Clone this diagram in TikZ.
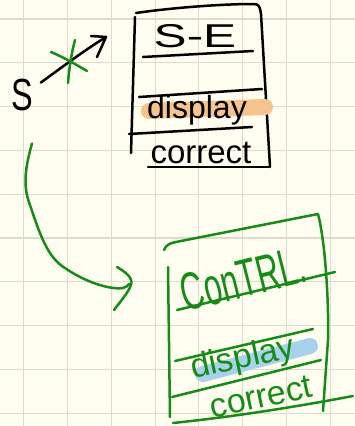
\documentclass[tikz,border=0pt]{standalone}
\usepackage{fontspec}
\setmainfont{Liberation Sans}
\definecolor{paper}{RGB}{254,253,240}
\definecolor{gridgray}{RGB}{222,219,205}
\definecolor{pengreen}{RGB}{22,140,22}
\definecolor{hlorange}{RGB}{244,196,140}
\definecolor{hlblue}{RGB}{168,210,236}
\begin{document}
\begin{tikzpicture}[x=1pt,y=-1pt,line cap=round,line join=round,
  gridline/.style={draw=gridgray,line width=1.1pt},
  ink/.style={draw=black,line width=2.5pt},
  gink/.style={draw=pengreen,line width=2.5pt},
  marker/.style={line width=16pt,line cap=round},
  word/.style={inner sep=0pt,outer sep=0pt},
]
% paper and squared grid
\fill[paper] (0,0) rectangle (355,426);
\useasboundingbox (0,0) rectangle (355,426);
\foreach \gx in {23.5,67.4,111.2,155.1,198.9,242.8,286.6,330.5}
  \draw[gridline] (\gx,0) -- (\gx,426);
\foreach \gy in {19,62.8,106.6,150.4,194.2,238,281.8,325.6,369.4,413.2}
  \draw[gridline] (0,\gy) -- (355,\gy);

% ---- start symbol
\node[word,anchor=base,font=\fontsize{45}{45}\selectfont] (s) at (22,110) {\scalebox{0.72}[1]{S}};

% ---- black S-E box
\draw[ink] (136,13) .. controls (170,8) and (220,4) .. (254,4)
  .. controls (259,4) and (260,7) .. (261,14) -- (270,167);
\draw[ink] (135,17) -- (131,153);
\draw[ink] (148,167) -- (269,167);
\draw[ink] (143,57) -- (253,51);
\draw[ink] (139,97) -- (262,89);
\draw[ink] (129,134) -- (252,127);
\draw[marker,hlorange] (149,111) -- (265,107);
\node[word,anchor=base,font=\fontsize{33}{33}\selectfont] (se) at (195,47) {\scalebox{1.5}[1]{S-E}};
\node[word,anchor=base,font=\fontsize{32}{32}\selectfont] (sedisp) at (197,118) {display};
\node[word,anchor=base,font=\fontsize{33}{33}\selectfont] (secorr) at (201,163) {correct};

% ---- crossed-out arrow from S to the S-E box
\coordinate (seTip) at (106,37);
\draw[ink] ([shift={(8,4)}]s.north east) .. controls (65,65) and (85,50) .. (seTip);
\draw[ink] (91,36) -- (seTip) -- (97,57);
\draw[gink] (51,52) .. controls (65,58) and (75,64) .. (87,71);
\draw[gink] (75,40) .. controls (71,55) and (69,70) .. (68,83);

% ---- green ConTRL box
\draw[gink] (164,250) .. controls (166,245) and (170,243) .. (176,242) -- (318,214)
  .. controls (325,240) and (329,300) .. (328,340) -- (323,411);
\draw[gink] (168,267) -- (170,417);
\draw[gink] (177,310) -- (335,272);
\draw[gink] (175,361) -- (313,329);
\draw[gink] (172,397) -- (321,360);
\draw[gink] (173,423) .. controls (240,416) and (300,406) .. (353,396);
\draw[marker,hlblue] (203,374) -- (310,346);
\node[word,rotate=14,font=\fontsize{44}{44}\selectfont,text=pengreen] (ctrl) at (243,279) {\scalebox{0.72}[1.2]{ConTRL.}};
\node[word,rotate=12,font=\fontsize{34}{34}\selectfont,text=pengreen] (ctdisp) at (243,359) {display};
\node[word,rotate=12,font=\fontsize{34}{34}\selectfont,text=pengreen] (ctcorr) at (261,397) {correct};

% ---- green arrow from S down to the ConTRL box
\coordinate (ctIn) at (129,284);
\draw[gink] ([shift={(10,33)}]s.south) .. controls (26,165) and (22,185) .. (30,205)
  .. controls (40,235) and (48,258) .. (65,268)
  .. controls (85,282) and (110,290) .. (123,288)
  .. controls (126,287) and (128,286) .. (ctIn);
\draw[gink] (117,267) .. controls (127,273) and (133,278) .. (131,285)
  .. controls (128,293) and (120,302) .. (114,310);
\end{tikzpicture}
\end{document}
